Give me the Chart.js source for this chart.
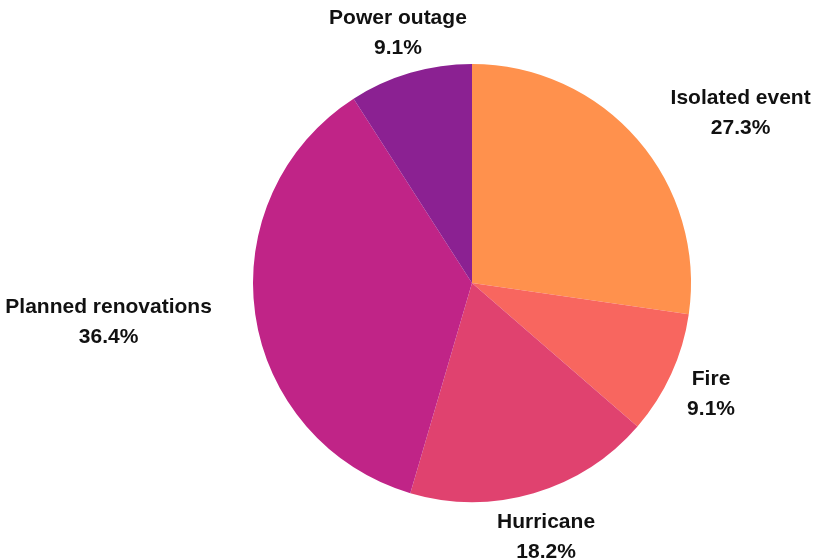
<!DOCTYPE html>
<html>
<head>
<meta charset="utf-8">
<script src="https://cdn.jsdelivr.net/npm/chart.js@4/dist/chart.umd.min.js"></script>
<style>
  html, body { margin: 0; padding: 0; background: #ffffff; }
  #wrap { width: 813px; height: 559px; position: relative; }
</style>
</head>
<body>
<div id="wrap"><canvas id="c" width="813" height="559"></canvas></div>
<script>
const categories = ["Isolated event", "Fire", "Hurricane", "Planned renovations", "Power outage"];
const counts = [3, 1, 2, 4, 1];
const percentLabels = ["27.3%", "9.1%", "18.2%", "36.4%", "9.1%"];
const sliceColors = ["#FF914D", "#F8665F", "#E0426F", "#C02487", "#8B2192"];

const outsideLabels = {
  id: 'outsideLabels',
  afterDatasetsDraw(chart) {
    const ctx = chart.ctx;
    const meta = chart.getDatasetMeta(0);
    ctx.save();
    ctx.font = 'bold 21px "Liberation Sans", Arial, sans-serif';
    ctx.fillStyle = '#111111';
    ctx.textBaseline = 'middle';
    ctx.textAlign = 'center';
    const lineGap = 30;
    meta.data.forEach((arc, i) => {
      const p = arc.getProps(['x', 'y', 'startAngle', 'endAngle', 'outerRadius'], true);
      const mid = (p.startAngle + p.endAngle) / 2;
      const r = p.outerRadius;
      const ax = p.x + Math.cos(mid) * r * 1.2;
      const ay = p.y + Math.sin(mid) * r * 1.2 + 2;
      const lines = [categories[i], percentLabels[i]];
      const w = Math.max(...lines.map(l => ctx.measureText(l).width));
      const h = lineGap + 22;
      let left = ax - w / 2;
      const top = ay - h / 2;
      const nx = Math.max(left, Math.min(p.x, left + w));
      const ny = Math.max(top, Math.min(p.y, top + h));
      const d = Math.hypot(nx - p.x, ny - p.y);
      if (d < r) {
        left = Math.cos(mid) > 0 ? ax : ax - w;
      }
      const cx = left + w / 2;
      ctx.fillText(lines[0], cx, ay - lineGap / 2);
      ctx.fillText(lines[1], cx, ay + lineGap / 2);
    });
    ctx.restore();
  }
};

new Chart(document.getElementById('c'), {
  type: 'pie',
  data: {
    labels: categories,
    datasets: [{
      data: counts,
      backgroundColor: sliceColors,
      borderWidth: 0,
      hoverOffset: 0
    }]
  },
  options: {
    responsive: false,
    animation: false,
    layout: { padding: { left: 253, right: 122, top: 64, bottom: 57 } },
    plugins: {
      legend: { display: false },
      tooltip: { enabled: false }
    }
  },
  plugins: [outsideLabels]
});
</script>
</body>
</html>
